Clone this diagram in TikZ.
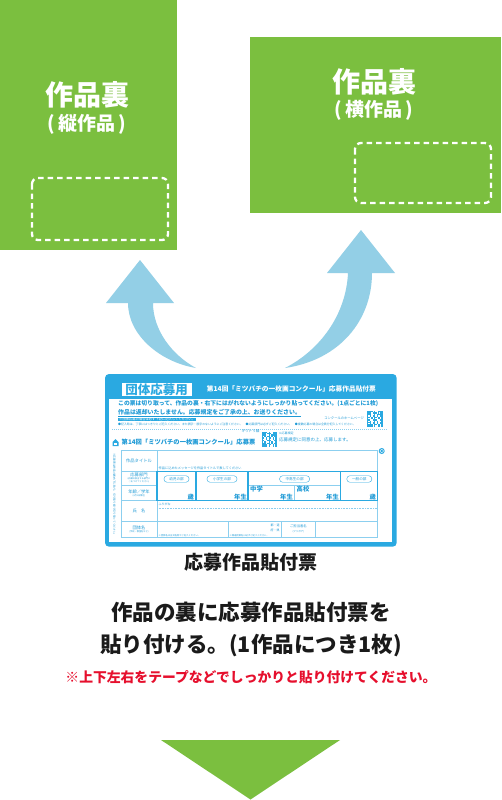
\documentclass[tikz,border=0pt]{standalone}
\usepackage{fontspec}
\setmainfont{Noto Sans CJK JP}
\definecolor{grn}{HTML}{7BBF3F}
\definecolor{arw}{HTML}{93CFE6}
\definecolor{cblue}{HTML}{2AA9E1}
\definecolor{tblue}{HTML}{1E9AD6}
\definecolor{lblue}{HTML}{8CCFEF}
\definecolor{rd}{HTML}{E60F2D}
\definecolor{ink}{HTML}{1A1A1A}
\newcommand{\fsz}[1]{\fontsize{#1pt}{#1pt}\selectfont}
\newcommand{\qrblock}[3]{%
 \begin{scope}[shift={(#1,#2)}]
  \fill[white] (0,0) rectangle (#3,#3);
  \foreach \i in {0,...,10}{\foreach \j in {0,...,10}{%
    \pgfmathtruncatemacro{\qv}{mod(\i*7+\j*5+\i*\j*3+\i*\i,5)}%
    \ifnum\qv<2 \fill[cblue] (\i*#3/11,\j*#3/11) rectangle ++(#3/11,#3/11);\fi}}
  \foreach \a/\b in {0/0,8/0,0/8}{%
    \fill[white] (\a*#3/11,\b*#3/11) rectangle ++(3*#3/11,3*#3/11);
    \draw[cblue,line width=0.6pt] (\a*#3/11+0.4,\b*#3/11+0.4) rectangle ++(3*#3/11-0.8,3*#3/11-0.8);
    \fill[cblue] (\a*#3/11+1.2,\b*#3/11+1.2) rectangle ++(3*#3/11-2.4,3*#3/11-2.4);}
 \end{scope}}
\tikzset{
 greenbox/.style={fill=grn, draw=none, inner sep=0, anchor=north west},
 dashbox/.style={draw=white, line width=2.3pt, dash pattern=on 5.5pt off 4pt, rounded corners=6pt},
 bigttl/.style={text=white, font=\bfseries\fsz{28}, inner sep=0},
 subttl/.style={text=white, font=\bfseries\fsz{19}, inner sep=0},
 flowarrow/.style={fill=arw, draw=none},
 tline/.style={draw=lblue, line width=0.5pt},
 tthick/.style={draw=cblue, line width=1.1pt},
 bluetxt/.style={text=tblue, inner sep=0},
 lbltxt/.style={text=tblue, inner sep=0, font=\fsz{4.3}},
 subtxt/.style={text=tblue, inner sep=0, font=\fsz{2.2}, align=center},
 valtxt/.style={text=tblue, inner sep=0, font=\bfseries\fsz{6.3}},
 pill/.style={draw=cblue, line width=0.4pt, rounded corners=3pt, text=tblue, font=\fsz{3.6}, inner sep=0, minimum height=6.5pt},
 maintxt/.style={text=ink, inner sep=0},
}
\begin{document}
\begin{tikzpicture}[x=1pt,y=-1pt]
\useasboundingbox (0,0) rectangle (501,800);
\fill[white] (0,0) rectangle (501,800);

% green boxes
\node[greenbox, minimum width=177pt, minimum height=250pt] (vbox) at (0,0) {};
\node[greenbox, minimum width=251pt, minimum height=176pt] (hbox) at (250,37) {};
\node[bigttl] (vt1) at (87,95) {作品裏};
\node[subttl] (vt2) at (87,124) {(\,縦作品\,)};
\node[bigttl] (ht1) at (374,82) {作品裏};
\node[subttl] (ht2) at (374,110.5) {(\,横作品\,)};
\draw[dashbox] (32,178) rectangle (168,240);
\draw[dashbox] (355,143) rectangle (491,203);

% curved arrows
\fill[flowarrow] (106,303) -- (140,260) -- (174,303) -- (153,303)
  .. controls (153,330) and (172,355) .. (196,368)
  .. controls (160,362) and (128,335) .. (128,303) -- cycle;
\fill[flowarrow] (327,273) -- (361,230) -- (395,273) -- (372,273)
  .. controls (372,320) and (340,360) .. (285,368)
  .. controls (320,350) and (346,315) .. (348,273) -- cycle;

% card
\fill[cblue, rounded corners=4pt] (105,374) rectangle (396.7,546.7);
\fill[white] (109,399) rectangle (391.7,541.5);
\node[fill=white, text=cblue, font=\bfseries\fsz{12.5}, inner sep=0, minimum width=70pt, minimum height=13.3pt] (tag) at (156.7,389.3) {団体応募用};
\node[text=white, font=\bfseries\fsz{6.7}, inner sep=0, anchor=west] (htitle) at (206.7,388.5) {第14回「ミツバチの一枚画コンクール」応募作品貼付票};
\node[bluetxt, font=\bfseries\fsz{5.8}, anchor=west] (l1) at (118,404) {この票は切り取って、作品の裏・右下にはがれないようにしっかり貼ってください。(1点ごとに1枚)};
\node[bluetxt, font=\bfseries\fsz{5.9}, anchor=west] (l2) at (118,412.7) {作品は返却いたしません。応募規定をご了承の上、お送りください。};
\draw[tblue, line width=0.5pt] ([yshift=-0.6pt]l2.south west) -- ([yshift=-0.6pt]l2.south east);
\node[fill=cblue, text=white, font=\fsz{3.3}, inner xsep=1pt, inner ysep=0.3pt, minimum height=3.6pt, anchor=west] (ban) at (118,419.5) {※団体応募の場合は必ず下記に記入してください。};
\node[bluetxt, font=\fsz{2.9}, anchor=west] (tiny) at (118,424.4) {●記入時は、丁寧にはっきりとご記入ください。また誤字・脱字のないようにご注意ください。　●応募部門は必ずご記入ください。　●複数応募の場合は全員分記入してください。};
\node[bluetxt, font=\fsz{3.3}, anchor=east] (hp) at (364,418.3) {コンクールのホームページ};
\qrblock{366.7}{410.7}{16}
\draw[lblue, line width=0.5pt, dash pattern=on 1pt off 1pt] (112,429.3) -- (388,429.3);
\node[bluetxt, font=\fsz{3.6}] (cut) at (250.5,431.5) {キリトリ線};
\qrblock{261.7}{431.7}{15}
\node[bluetxt, font=\fsz{3}, anchor=west] (rk) at (279,433) {4.応募規定};
\node[bluetxt, font=\fsz{4.5}, anchor=west] (agree) at (279,440) {応募規定に同意の上、応募します。};

% table heading
\fill[cblue] (112.5,446) -- (112.5,442) -- (115.5,439) -- (118.5,442) -- (118.5,446) -- cycle;
\fill[white] (114.4,442.6) rectangle (116.6,445.2);
\node[bluetxt, font=\bfseries\fsz{6.3}, anchor=west] (tt) at (121.5,442.5) {第14回「ミツバチの一枚画コンクール」応募票};
\node[bluetxt, font=\fsz{2.7}, rotate=-90, anchor=west] (vert) at (114.5,453) {※応募票は作品の裏右下に貼り、切り取り線で切り取ってください。};
\node[circle, fill=cblue, minimum size=6pt, inner sep=0] (pin) at (381.7,451) {};
\draw[white, line width=0.4pt] (pin.center) circle (1.9pt);

% table grid
\draw[tline] (121,450) rectangle (377.3,537.7);
\draw[tline] (157,450) -- (157,537.7);
\draw[tline] (121,471.7) -- (377.3,471.7);
\draw[tline] (121,485) -- (157,485);
\draw[tline] (121,500.5) -- (377.3,500.5);
\draw[tline, dash pattern=on 0.8pt off 0.8pt] (157,508) -- (377.3,508);
\draw[tline] (121,521) -- (377.3,521);
\draw[tline] (248,485) -- (340.7,485);
\draw[tline] (294.3,485) -- (294.3,500.5);
\draw[tline] (228.3,521) -- (228.3,537.7);
\draw[tline] (281.7,521) -- (281.7,537.7);
\draw[tline] (315,521) -- (315,537.7);
\draw[tthick] (157,471.7) rectangle (377.3,500.5);
\draw[tthick] (196,471.7) -- (196,500.5);
\draw[tthick] (248,471.7) -- (248,500.5);
\draw[tthick] (340.7,471.7) -- (340.7,500.5);

% labels
\node[lbltxt] (c1) at (139,460.5) {作品タイトル};
\node[lbltxt] (c2) at (139,475.3) {応募部門};
\node[subtxt] (c2s) at (139,480.6) {(右欄の該当する部門に\\○をつけてください)};
\node[lbltxt] (c3) at (139,491.8) {年齢／学年};
\node[subtxt] (c3s) at (139,496) {(4月1日現在)};
\node[lbltxt] (c4) at (139,511) {氏　名};
\node[lbltxt] (c5) at (139,527.5) {団体名};
\node[subtxt] (c5s) at (139,532) {(学校・教室名など)};
\node[bluetxt, font=\fsz{3.2}, anchor=west] (note1) at (158.5,468.6) {作品に込めたメッセージを作品タイトルで表してください};
\node[bluetxt, font=\fsz{3}, anchor=west] (furi) at (158.5,504.6) {ふりがな};
\node[bluetxt, font=\fsz{2.3}, anchor=west] (fn1) at (158.5,535.4) {※団体名は正式名称でご記入ください。};
\node[bluetxt, font=\fsz{2.3}, anchor=west] (fn2) at (229.5,535.4) {※都道府県名は必ずご記入ください。};
\node[bluetxt, font=\fsz{3}] (pref1) at (275,525.3) {都・道};
\node[bluetxt, font=\fsz{3}] (pref2) at (275,530.8) {府・県};
\node[bluetxt, font=\fsz{3.3}] (tan) at (298.4,526.6) {ご担当者名};
\node[bluetxt, font=\fsz{2.5}] (tanf) at (298.4,531.9) {(フリガナ)};

% pills
\node[pill, minimum width=25pt] (p1) at (176.5,479) {幼児の部};
\node[pill, minimum width=30pt] (p2) at (222,479) {小学生の部};
\node[pill, minimum width=30pt] (p3) at (294.6,479) {中高生の部};
\node[pill, minimum width=25pt] (p4) at (359.3,479) {一般の部};

% values
\node[valtxt, anchor=east] (v1) at (194,497) {歳};
\node[valtxt, anchor=east] (v2) at (247,497) {年生};
\node[valtxt, anchor=west] (v3) at (250,489.5) {中学};
\node[valtxt, anchor=east] (v4) at (293,497) {年生};
\node[valtxt, anchor=west] (v5) at (296.5,489.5) {高校};
\node[valtxt, anchor=east] (v6) at (339,497) {年生};
\node[valtxt, anchor=east] (v7) at (376,497) {歳};

% lower texts
\node[maintxt, font=\bfseries\fsz{19}] (lbl) at (251,562.5) {応募作品貼付票};
\node[maintxt, font=\bfseries\fsz{21.5}] (m1) at (251,612.5) {作品の裏に応募作品貼付票を};
\node[maintxt, font=\bfseries\fsz{21.5}] (m2) at (251,645) {貼り付ける。(1作品につき1枚)};
\node[text=rd, inner sep=0, font=\bfseries\fsz{13.8}] (note) at (251,677.5) {※上下左右をテープなどでしっかりと貼り付けてください。};
\fill[grn] (161,740) -- (340,740) -- (250.5,799.5) -- cycle;
\end{tikzpicture}
\end{document}
